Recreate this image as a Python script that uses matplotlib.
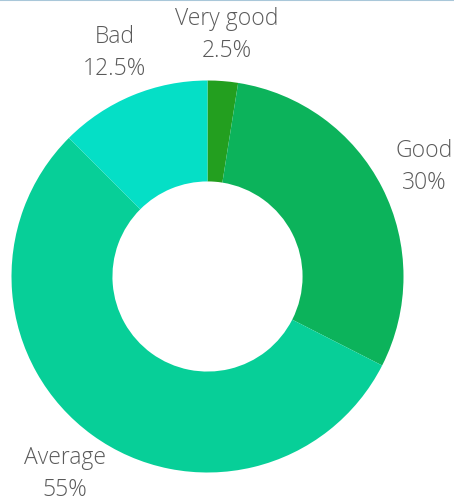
import matplotlib
matplotlib.use("Agg")
import matplotlib.pyplot as plt
from matplotlib.lines import Line2D

categories = ["Very good", "Good", "Average", "Bad"]
values = [2.5, 30, 55, 12.5]
pct_labels = ["2.5%", "30%", "55%", "12.5%"]
colors = ["#239f1f", "#0cb35b", "#07cf98", "#05dfc6"]

W, H = 454, 502
fig = plt.figure(figsize=(W / 100, H / 100), dpi=100)
fig.patch.set_facecolor("white")

cx, cy, r = 207.5, 277.5, 196
ax = fig.add_axes([(cx - r) / W, (H - cy - r) / H, 2 * r / W, 2 * r / H])

labels = [f"{c}\n{p}" for c, p in zip(categories, pct_labels)]
wedges, texts = ax.pie(values, colors=colors, startangle=90, counterclock=False,
                       radius=1, labels=labels, labeldistance=1.24,
                       wedgeprops=dict(width=0.515, edgecolor="none", linewidth=0),
                       textprops=dict(fontsize=16.5, color="#5a5a5a",
                                      family=["Open Sans", "DejaVu Sans"],
                                      fontweight="light", linespacing=1.42,
                                      ha="center", va="center"))
for t in texts:
    t.set_ha("center")
    t.set_va("center")
    t.set_clip_on(False)

ax.set_xlim(-1, 1)
ax.set_ylim(-1, 1)
ax.set_aspect("equal")
ax.axis("off")

fig.add_artist(Line2D([0, 1], [1 - 1 / H, 1 - 1 / H], transform=fig.transFigure,
                      color="#a9c7d9", linewidth=1.5))

fig.savefig("out.png", dpi=100, facecolor="white")
